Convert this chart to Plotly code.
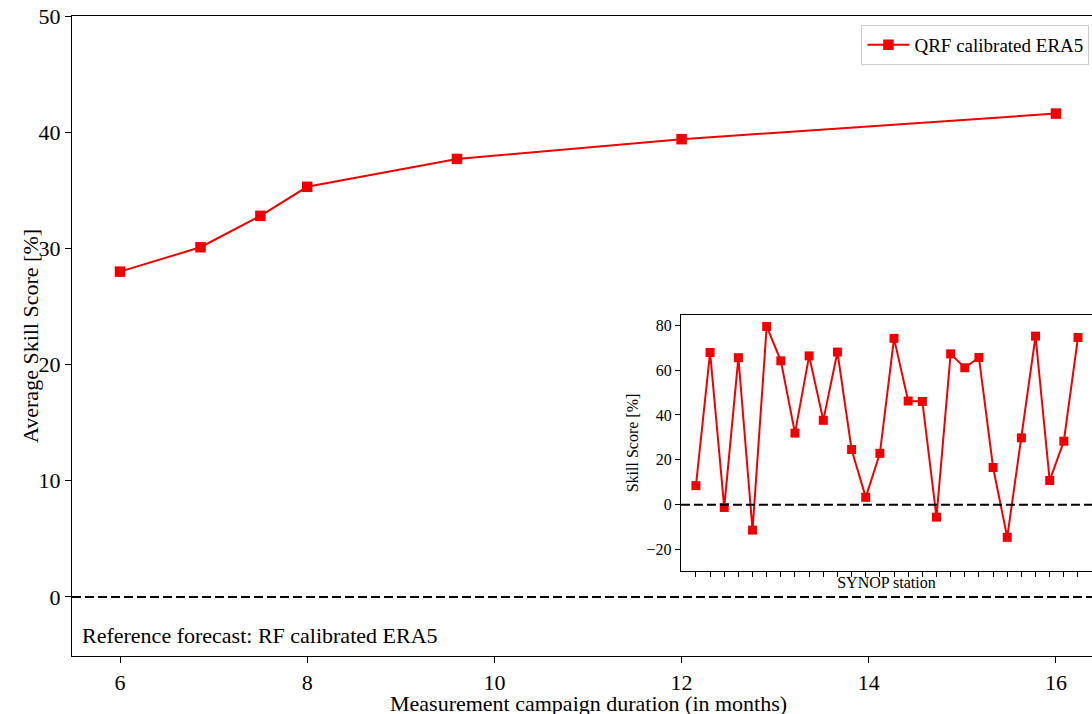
import plotly.graph_objects as go

# Main series
months = [6, 6.86, 7.5, 8, 9.6, 12, 16]
avg_skill = [28.0, 30.1, 32.8, 35.3, 37.7, 39.4, 41.6]

# Inset series (per SYNOP station)
stations = list(range(28))
station_skill = [8.5, 67.8, -1.2, 65.5, -11.3, 79.4, 64.1, 31.9, 66.3, 37.6,
                 68.0, 24.6, 3.3, 22.9, 74.1, 46.2, 46.0, -5.5, 67.2, 61.0,
                 65.6, 16.6, -14.5, 29.8, 75.1, 10.8, 28.3, 74.5]

main_xticks = [6, 8, 10, 12, 14, 16]
main_yticks = [0, 10, 20, 30, 40, 50]
inset_yticks = [-20, 0, 20, 40, 60, 80]
inset_yticktext = ["\u221220", "0", "20", "40", "60", "80"]

FONT = "Times New Roman, Liberation Serif, serif"
RED = "#f00000"

fig = go.Figure()

fig.add_trace(go.Scatter(
    x=months, y=avg_skill, mode="lines+markers", name="QRF calibrated ERA5",
    line=dict(color=RED, width=2), marker=dict(symbol="square", size=10.5, color=RED),
    xaxis="x", yaxis="y",
))

fig.add_trace(go.Scatter(
    x=stations, y=station_skill, mode="lines+markers", showlegend=False,
    line=dict(color=RED, width=2), marker=dict(symbol="square", size=9, color=RED),
    xaxis="x2", yaxis="y2",
))

# zero reference lines
fig.add_shape(type="line", xref="paper", x0=0, x1=1, yref="y", y0=0, y1=0,
              line=dict(color="black", width=2, dash="9px,4px"), layer="below")
fig.add_shape(type="line", xref="x2 domain", x0=0, x1=1, yref="y2", y0=0, y1=0,
              line=dict(color="black", width=2, dash="9px,4px"))

fig.add_annotation(text="Reference forecast: RF calibrated ERA5", xref="paper", yref="paper",
                   x=0.008, y=0.010, xanchor="left", yanchor="bottom", showarrow=False,
                   font=dict(family=FONT, size=22, color="black"))

# axis titles as annotations
fig.add_annotation(text="Measurement campaign duration (in months)", xref="paper", yref="paper",
                   x=0.506, y=-0.0735, xanchor="center", yanchor="middle", showarrow=False,
                   font=dict(family=FONT, size=22, color="black"))
fig.add_annotation(text="Average Skill Score [%]", xref="paper", yref="paper",
                   x=-0.0412, y=0.5, xanchor="center", yanchor="middle", showarrow=False,
                   textangle=-90, font=dict(family=FONT, size=22, color="black"))

fig.update_layout(
    width=1092, height=714,
    margin=dict(l=72, r=0, t=16, b=58, autoexpand=False),
    paper_bgcolor="white", plot_bgcolor="white",
    font=dict(family=FONT, color="black"),
    showlegend=True,
    legend=dict(x=0.9975, y=0.986, xanchor="right", yanchor="top",
                bordercolor="#cccccc", borderwidth=1, bgcolor="white",
                itemwidth=42, tracegroupgap=0,
                font=dict(family=FONT, size=19)),
    xaxis=dict(range=[5.487, 16.385], tickvals=main_xticks, automargin=False,
               showgrid=False, zeroline=False, showline=True, linecolor="black", linewidth=1.2,
               mirror=True, ticks="outside", ticklen=6, tickcolor="black",
               tickfont=dict(family=FONT, size=22)),
    yaxis=dict(range=[-5.08, 50], tickvals=main_yticks, automargin=False,
               showgrid=False, zeroline=False, showline=True, linecolor="black", linewidth=1.2,
               ticks="outside", ticklen=6, tickcolor="black",
               tickfont=dict(family=FONT, size=22)),
    xaxis2=dict(domain=[0.597, 1.0], anchor="y2", range=[-1.06, 27.99], automargin=False,
                tickvals=stations, showticklabels=False,
                showgrid=False, zeroline=False, showline=True, linecolor="black", linewidth=1.2,
                mirror=True, ticks="outside", ticklen=5, tickcolor="black",
                title=dict(text="SYNOP station", font=dict(family=FONT, size=16), standoff=0)),
    yaxis2=dict(domain=[0.1328, 0.5328], anchor="x2", range=[-29.5, 84.5], automargin=False,
                tickvals=inset_yticks, ticktext=inset_yticktext,
                showgrid=False, zeroline=False, showline=True, linecolor="black", linewidth=1.2,
                ticks="outside", ticklen=5, tickcolor="black",
                tickfont=dict(family=FONT, size=16),
                title=dict(text="Skill Score [%]", font=dict(family=FONT, size=16), standoff=4)),
)

# white background for inset
fig.add_shape(type="rect", xref="x2 domain", yref="y2 domain", x0=0, x1=1, y0=0, y1=1,
              fillcolor="white", line=dict(width=0), layer="below")

fig.write_html("out.html", config={"displayModeBar": False},
               post_script="document.body.style.margin='0';")
